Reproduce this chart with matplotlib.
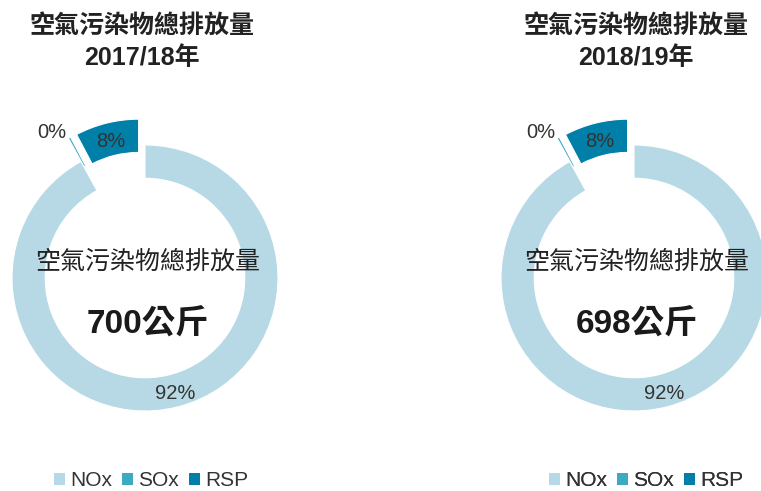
import numpy as np
import matplotlib
matplotlib.use("Agg")
import matplotlib.pyplot as plt
from matplotlib.patches import Patch

plt.rcParams['font.family'] = ['Liberation Sans', 'Noto Sans CJK TC']

# data (kg)
pollutants = ["NOx", "SOx", "RSP"]
years = ["2017/18年", "2018/19年"]
emissions = [
    [644, 2, 54],
    [642, 2, 54],
]
colors = ["#b7d9e5", "#3fa9c5", "#0080a8"]
title_text = "空氣污染物總排放量"

W, H = 761, 491
fig = plt.figure(figsize=(W / 100, H / 100), dpi=100)
ax = fig.add_axes([0, 0, 1, 1])

centers = [(145, H - 278), (634, H - 278)]
title_x = [142, 636]
legend_x = [151, 646]
radius = 133
explode = [0, 0.2 * radius, 0.2 * radius]
label_dist = [0.9, 1.04, 0.86]
label_ha = ["center", "right", "center"]

for i, vals in enumerate(emissions):
    cx, cy = centers[i]
    wedges, _ = ax.pie(vals, colors=colors, startangle=90, counterclock=False,
                       explode=explode, radius=radius, center=(cx, cy),
                       wedgeprops=dict(width=radius * 0.25, edgecolor="white", linewidth=0.8))
    total = sum(vals)
    for w, v, d, ha in zip(wedges, vals, label_dist, label_ha):
        mid = np.deg2rad((w.theta1 + w.theta2) / 2)
        wx, wy = w.center
        ax.text(wx + d * radius * np.cos(mid), wy + d * radius * np.sin(mid),
                f"{round(100 * v / total)}%", ha=ha, va="center",
                fontsize=14.5, color="#333333")
    ax.text(cx + 3, H - 262, title_text, ha="center", va="center", fontsize=18, color="#222222")
    ax.text(cx + 3, H - 324, f"{total}公斤", ha="center", va="center", fontsize=24,
            fontweight="bold", color="#1a1a1a")
    ax.text(title_x[i], H - 42, f"{title_text}\n{years[i]}", ha="center", va="center",
            fontsize=18, fontweight="bold", color="#222222", linespacing=1.45)

    handles = [Patch(facecolor=c, edgecolor="none") for c in colors]
    leg = ax.legend(handles, pollutants, loc="center", ncol=3, frameon=False,
                    bbox_to_anchor=(legend_x[i], 10), bbox_transform=ax.transData,
                    fontsize=15, handlelength=0.55, handleheight=0.55,
                    handletextpad=0.25, columnspacing=0.45, borderpad=0)
    for t in leg.get_texts():
        t.set_color("#333333")
    ax.add_artist(leg)

ax.set_xlim(0, W)
ax.set_ylim(0, H)
ax.set_aspect("auto")
ax.axis("off")

fig.savefig("out.png", dpi=100)
